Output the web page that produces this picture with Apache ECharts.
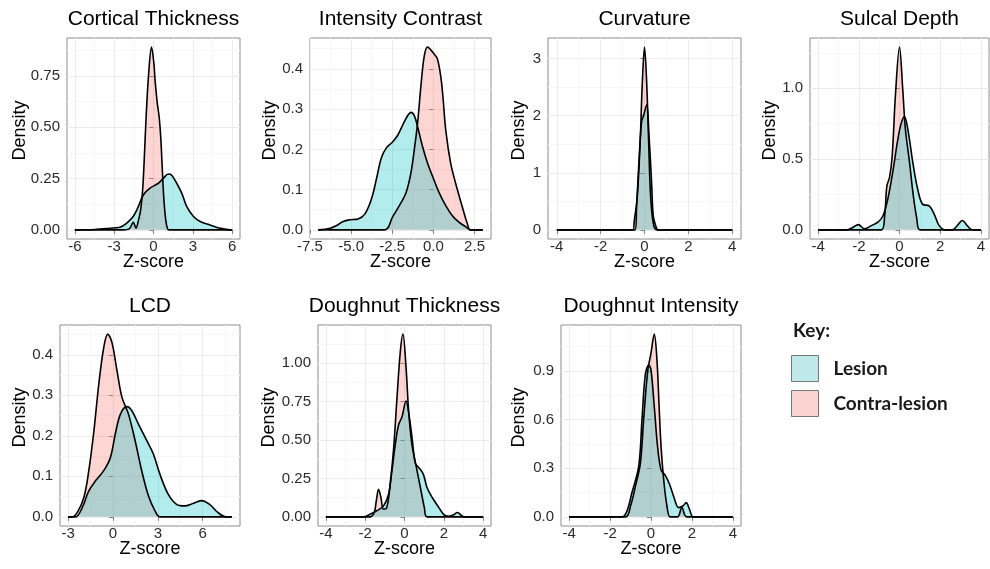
<!DOCTYPE html>
<html>
<head>
<meta charset="utf-8">
<script src="https://cdn.jsdelivr.net/npm/echarts@6/dist/echarts.min.js"></script>
<style>
  html, body { margin: 0; padding: 0; background: #fff; }
  #main { width: 990px; height: 569px; }
</style>
</head>
<body>
<div id="main"></div>
<script>
// density curves, [z-score, density]
const ctLesion = [[-6, 0], [-4.5, 0.002], [-3.33, 0.008], [-2.57, 0.013], [-2.06, 0.032], [-1.55, 0.065], [-1.16, 0.113], [-0.78, 0.17], [-0.27, 0.203], [0.37, 0.227], [0.75, 0.251], [1.13, 0.272], [1.39, 0.266], [1.77, 0.227], [2.16, 0.178], [2.54, 0.113], [3.05, 0.065], [3.56, 0.041], [4.32, 0.024], [5.09, 0.008], [5.85, 0], [6, 0]];
const ctContra = [[-6, 0], [-2.3, 0], [-1.85, 0.005], [-1.54, 0.037], [-1.34, 0.008], [-1.17, 0.04], [-0.98, 0.097], [-0.83, 0.194], [-0.72, 0.324], [-0.55, 0.567], [-0.35, 0.778], [-0.15, 0.89], [0.03, 0.81], [0.12, 0.73], [0.29, 0.616], [0.43, 0.551], [0.55, 0.454], [0.65, 0.325], [0.78, 0.16], [0.93, 0.05], [1.08, 0.003], [1.2, 0], [6, 0]];

const icLesion = [[-7, 0], [-6.28, 0.004], [-5.88, 0.011], [-5.48, 0.021], [-5.08, 0.025], [-4.58, 0.027], [-4.17, 0.039], [-3.77, 0.076], [-3.47, 0.125], [-3.17, 0.178], [-2.87, 0.203], [-2.47, 0.219], [-2.17, 0.235], [-1.87, 0.26], [-1.56, 0.284], [-1.36, 0.292], [-1.16, 0.284], [-0.96, 0.256], [-0.66, 0.207], [-0.36, 0.166], [-0.06, 0.134], [0.34, 0.093], [0.75, 0.06], [1.15, 0.035], [1.55, 0.019], [1.95, 0.008], [2.25, 0], [3, 0]];
const icContra = [[-7, 0], [-2.97, 0], [-2.47, 0.033], [-2.07, 0.06], [-1.66, 0.093], [-1.36, 0.143], [-1.16, 0.2], [-0.96, 0.266], [-0.76, 0.357], [-0.56, 0.431], [-0.36, 0.454], [0.04, 0.437], [0.24, 0.425], [0.45, 0.38], [0.58, 0.33], [0.75, 0.248], [1.05, 0.165], [1.35, 0.116], [1.75, 0.058], [2.05, 0.017], [2.25, 0], [3, 0]];

const cvLesion = [[-4, 0], [-0.43, 0], [-0.36, 0.41], [-0.24, 1.29], [-0.13, 1.9], [-0.05, 1.99], [0.1, 2.19], [0.2, 1.7], [0.33, 0.77], [0.4, 0.24], [0.52, 0.06], [0.62, 0], [4, 0]];
const cvContra = [[-4, 0], [-0.52, 0], [-0.47, 0.146], [-0.33, 0.58], [-0.2, 1.52], [-0.1, 2.57], [0, 3.2], [0.1, 2.57], [0.19, 1.52], [0.28, 0.58], [0.4, 0.12], [0.56, 0], [4, 0]];

const sdLesion = [[-4, 0], [-2.6, 0], [-2.28, 0.019], [-2.03, 0.037], [-1.71, 0.007], [-1.38, 0.03], [-1.06, 0.054], [-0.81, 0.1], [-0.57, 0.22], [-0.33, 0.41], [-0.08, 0.64], [0.08, 0.75], [0.24, 0.8], [0.41, 0.71], [0.65, 0.48], [0.89, 0.29], [1.14, 0.18], [1.46, 0.17], [1.71, 0.11], [1.95, 0.03], [2.28, 0], [2.6, 0], [2.84, 0.03], [3.09, 0.066], [3.33, 0.03], [3.58, 0], [4, 0]];
const sdContra = [[-4, 0], [-0.89, 0], [-0.73, 0.1], [-0.62, 0.31], [-0.49, 0.37], [-0.36, 0.52], [-0.2, 0.95], [0, 1.29], [0.16, 0.99], [0.29, 0.71], [0.49, 0.48], [0.68, 0.24], [0.85, 0.08], [1.01, 0], [4, 0]];

const lcdLesion = [[-3, 0], [-2.5, 0], [-2.06, 0.023], [-1.62, 0.064], [-1.17, 0.089], [-0.62, 0.114], [-0.18, 0.146], [0.15, 0.204], [0.49, 0.253], [0.93, 0.272], [1.26, 0.262], [1.7, 0.229], [2.26, 0.188], [2.7, 0.155], [3.14, 0.105], [3.69, 0.056], [4.25, 0.031], [4.8, 0.027], [5.35, 0.033], [5.91, 0.04], [6.46, 0.031], [7.01, 0.011], [7.57, 0], [7.95, 0]];
const lcdContra = [[-3, 0], [-2.72, 0], [-2.39, 0.011], [-1.95, 0.048], [-1.62, 0.114], [-1.28, 0.212], [-0.95, 0.328], [-0.62, 0.418], [-0.35, 0.451], [-0.07, 0.43], [0.27, 0.36], [0.6, 0.295], [1.04, 0.253], [1.48, 0.188], [1.92, 0.114], [2.37, 0.052], [2.81, 0.015], [3.14, 0], [7.95, 0]];

const dtLesion = [[-4, 0], [-2.09, 0], [-1.75, 0.017], [-1.41, 0.04], [-1.07, 0.07], [-0.81, 0.147], [-0.64, 0.3], [-0.47, 0.47], [-0.3, 0.6], [-0.13, 0.65], [0.08, 0.755], [0.21, 0.68], [0.38, 0.52], [0.55, 0.35], [0.73, 0.32], [0.95, 0.28], [1.15, 0.19], [1.41, 0.126], [1.75, 0.06], [2.0, 0.015], [2.26, 0.004], [2.48, 0.012], [2.69, 0.028], [3.03, 0], [4, 0]];
const dtContra = [[-4, 0], [-1.75, 0], [-1.54, 0.028], [-1.44, 0.1], [-1.32, 0.18], [-1.2, 0.126], [-1.07, 0.05], [-0.9, 0.06], [-0.73, 0.213], [-0.55, 0.45], [-0.38, 0.78], [-0.21, 1.08], [-0.08, 1.19], [0.08, 0.97], [0.21, 0.69], [0.38, 0.47], [0.64, 0.3], [0.84, 0.17], [1.01, 0.06], [1.15, 0], [4, 0]];

const diLesion = [[-4, 0], [-1.41, 0], [-1.17, 0.037], [-0.93, 0.15], [-0.6, 0.313], [-0.44, 0.6], [-0.28, 0.875], [-0.11, 0.937], [0, 0.906], [0.16, 0.68], [0.32, 0.436], [0.49, 0.29], [0.7, 0.256], [0.91, 0.2], [1.1, 0.129], [1.35, 0.057], [1.56, 0.067], [1.72, 0.088], [1.88, 0.047], [2.08, 0], [4, 0]];
const diContra = [[-4, 0], [-1.25, 0], [-1.0, 0.067], [-0.76, 0.19], [-0.52, 0.33], [-0.36, 0.6], [-0.16, 0.9], [0, 1.01], [0.16, 1.127], [0.29, 0.97], [0.39, 0.7], [0.49, 0.436], [0.62, 0.23], [0.78, 0.067], [0.94, 0], [1.3, 0], [1.51, 0.057], [1.75, 0], [4, 0]];

// tick labels
const ctX = ['-6', '-3', '0', '3', '6'];
const ctY = ['0.00', '0.25', '0.50', '0.75'];
const icX = ['-7.5', '-5.0', '-2.5', '0.0', '2.5'];
const icY = ['0.0', '0.1', '0.2', '0.3', '0.4'];
const cvX = ['-4', '-2', '0', '2', '4'];
const cvY = ['0', '1', '2', '3'];
const sdX = ['-4', '-2', '0', '2', '4'];
const sdY = ['0.0', '0.5', '1.0'];
const lcdX = ['-3', '0', '3', '6'];
const lcdY = ['0.0', '0.1', '0.2', '0.3', '0.4'];
const dtX = ['-4', '-2', '0', '2', '4'];
const dtY = ['0.00', '0.25', '0.50', '0.75', '1.00'];
const diX = ['-4', '-2', '0', '2', '4'];
const diY = ['0.0', '0.3', '0.6', '0.9'];

const titles = ['Cortical Thickness', 'Intensity Contrast', 'Curvature', 'Sulcal Depth', 'LCD', 'Doughnut Thickness', 'Doughnut Intensity'];
const groups = ['Lesion', 'Contra-lesion'];

const panels = [
  { lesion: ctLesion, contra: ctContra, x: ctX, y: ctY },
  { lesion: icLesion, contra: icContra, x: icX, y: icY },
  { lesion: cvLesion, contra: cvContra, x: cvX, y: cvY },
  { lesion: sdLesion, contra: sdContra, x: sdX, y: sdY },
  { lesion: lcdLesion, contra: lcdContra, x: lcdX, y: lcdY },
  { lesion: dtLesion, contra: dtContra, x: dtX, y: dtY },
  { lesion: diLesion, contra: diContra, x: diX, y: diY }
];

// panel boxes: left, top, width, height, gap of the y title
const layout = [
  [67, 38, 173, 201, 38],
  [310, 38, 181, 201, 31],
  [548, 38, 193, 201, 20],
  [810, 38, 179, 201, 31],
  [60, 325, 180, 201, 31],
  [318, 325, 173, 201, 40],
  [561, 325, 180, 201, 33]
];

const font = 'Liberation Sans, Arial, sans-serif';
const chart = echarts.init(document.getElementById('main'));

function axis(i, labels, min, max, isX, gap) {
  const vals = labels.map(Number);
  const step = vals[1] - vals[0];
  return {
    type: 'value',
    gridIndex: i,
    min: min,
    max: max,
    minInterval: step,
    maxInterval: step,
    name: isX ? 'Z-score' : 'Density',
    nameLocation: 'middle',
    nameGap: gap,
    nameMoveOverlap: false,
    nameTextStyle: {
      fontSize: 18, color: '#000', fontFamily: font,
      // nudge the rotated y title up a little, as in the figure
      padding: isX ? 0 : [0, 0, 0, 16]
    },
    axisLine: { show: false },
    axisTick: { show: true, length: 4, customValues: vals, lineStyle: { color: '#808080' } },
    axisLabel: {
      customValues: vals,
      margin: isX ? 0 : 7,
      fontSize: 15,
      color: '#2b2b2b',
      fontFamily: font,
      formatter: function (v) {
        const k = vals.findIndex(t => Math.abs(t - v) < 1e-6);
        return k < 0 ? '' : labels[k];
      }
    },
    splitLine: { show: true, lineStyle: { color: '#ebebeb', width: 1 } },
    minorTick: { show: false, splitNumber: 2 },
    minorSplitLine: { show: true, lineStyle: { color: '#f7f7f7', width: 1 } }
  };
}

const option = {
  animation: false,
  backgroundColor: '#fff',
  title: [],
  grid: [],
  xAxis: [],
  yAxis: [],
  series: [],
  legend: {
    orient: 'vertical',
    left: 791,
    top: 355,
    padding: 0,
    itemWidth: 27,
    itemHeight: 26,
    itemGap: 8,
    icon: 'rect',
    selectedMode: false,
    textStyle: { fontSize: 19, fontWeight: 'bold', color: '#1a1a1a', fontFamily: 'Lato, sans-serif', padding: [0, 0, 0, 10] },
    data: [
      { name: 'Lesion', itemStyle: { color: '#bfe8ea', borderColor: '#777', borderWidth: 1 } },
      { name: 'Contra-lesion', itemStyle: { color: '#fbd3d1', borderColor: '#777', borderWidth: 1 } }
    ]
  }
};

option.title.push({
  text: 'Key:', left: 793, top: 321, padding: 0, textAlign: 'left', textVerticalAlign: 'top',
  textStyle: { fontSize: 19, fontWeight: 'bold', color: '#1a1a1a', fontFamily: 'Lato, sans-serif' }
});

panels.forEach(function (p, i) {
  const [left, top, width, height, yGap] = layout[i];
  const pts = p.lesion.concat(p.contra);
  const xs = pts.map(d => d[0]);
  const ys = pts.map(d => d[1]);
  const x0 = Math.min(...xs), x1 = Math.max(...xs), yTop = Math.max(...ys);
  const xPad = (x1 - x0) * 0.05, yPad = yTop * 0.05;

  option.title.push({
    text: titles[i], left: left + width / 2, top: top - 29, padding: 0,
    textAlign: 'center', textVerticalAlign: 'top',
    textStyle: { fontSize: 21, fontWeight: 'normal', color: '#000', fontFamily: font }
  });
  option.grid.push({
    left: left, top: top, width: width, height: height,
    show: true, borderColor: '#8c8c8c', borderWidth: 1, backgroundColor: '#fff'
  });
  option.xAxis.push(axis(i, p.x, x0 - xPad, x1 + xPad, true, 14));
  option.yAxis.push(axis(i, p.y, -yPad, yTop + yPad, false, yGap));

  // contra-lesion first, lesion drawn on top
  [[groups[1], p.contra, '#F8766D'], [groups[0], p.lesion, '#00BFC4']].forEach(function (s) {
    option.series.push({
      name: s[0],
      type: 'line',
      xAxisIndex: i,
      yAxisIndex: i,
      data: s[1],
      smooth: 0.35,
      symbol: 'none',
      silent: true,
      itemStyle: { color: s[2] },
      lineStyle: { color: '#000', width: 1.6 },
      areaStyle: { color: s[2], opacity: 0.3 }
    });
  });
});

chart.setOption(option);
</script>
</body>
</html>
